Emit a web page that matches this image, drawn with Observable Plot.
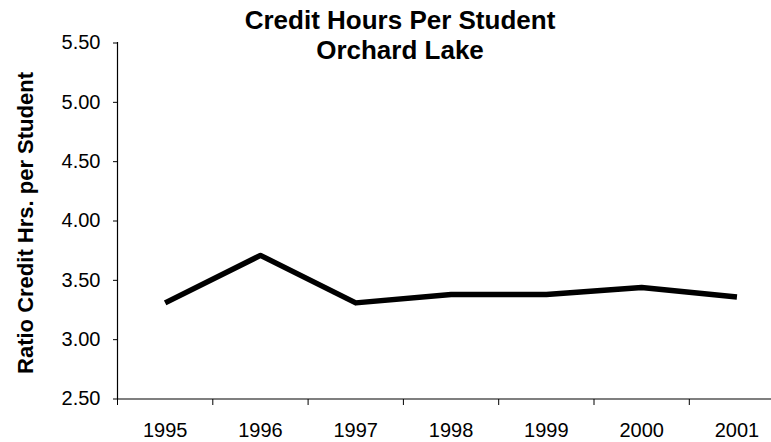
<!DOCTYPE html>
<html>
<head>
<meta charset="utf-8">
<script src="https://cdn.jsdelivr.net/npm/d3@7"></script>
<script src="https://cdn.jsdelivr.net/npm/@observablehq/plot@0.6"></script>
<style>
  body { margin: 0; background: #fff; overflow: hidden; }
  #chart { width: 771px; height: 442px; overflow: hidden; position: relative; }
  #chart svg { overflow: hidden; }
</style>
</head>
<body>
<div id="chart"></div>
<script>
// ---- data ----
const years = ["1995", "1996", "1997", "1998", "1999", "2000", "2001"];
const ratios = [3.31, 3.71, 3.31, 3.38, 3.38, 3.44, 3.36];
const yTicks = [2.5, 3.0, 3.5, 4.0, 4.5, 5.0, 5.5];
const titleLines = ["Credit Hours Per Student", "Orchard Lake"];
const yLabel = "Ratio Credit Hrs. per Student";

// ---- derived table ----
const data = years.map((year, i) => ({ year, pos: i + 0.5, ratio: ratios[i] }));
const boundaries = d3.range(years.length + 1);       // tick marks between categories
const centers = years.map((_, i) => i + 0.5);         // label positions

const font = "'Liberation Sans', Arial, Helvetica, sans-serif";

const chart = Plot.plot({
  width: 771,
  height: 442,
  marginLeft: 117,
  marginRight: 0,
  marginTop: 42,
  marginBottom: 43,
  style: { fontFamily: font, fontSize: "20px", color: "#000", background: "#fff", overflow: "hidden" },
  x: { type: "linear", domain: [0, years.length], range: [117, 117 + years.length * 95.3] },
  y: { type: "linear", domain: [2.5, 5.5], range: [398.5, 42.5] },
  marks: [
    // y axis ticks and labels
    Plot.axisY({
      ticks: yTicks,
      tickSize: 4,
      tickPadding: 13,
      tickFormat: d3.format(".2f"),
      fontSize: 20,
      stroke: "#000",
      fill: "#000",
      label: null
    }),
    // x axis tick marks at category boundaries
    Plot.axisX({
      ticks: boundaries,
      tickSize: 6,
      tickFormat: () => "",
      stroke: "#000",
      label: null
    }),
    // x axis category labels
    Plot.axisX({
      ticks: centers,
      tickSize: 0,
      tickPadding: 23,
      tickFormat: (d) => years[Math.floor(d)],
      fontSize: 20,
      fill: "#000",
      label: null
    }),
    Plot.ruleX([0], { stroke: "#000", strokeWidth: 1.2 }),
    Plot.ruleY([2.5], { stroke: "#000", strokeWidth: 1.2 }),
    Plot.line(data, {
      x: "pos",
      y: "ratio",
      stroke: "#000",
      strokeWidth: 5.5,
      strokeLinejoin: "round",
      strokeLinecap: "butt"
    })
  ]
});

document.getElementById("chart").appendChild(chart);

// title and y-axis label as real SVG text
const svg = d3.select(chart);
svg.append("text")
  .attr("x", 400).attr("y", 28.5)
  .attr("text-anchor", "middle")
  .style("font-family", font).style("font-size", "26px").style("font-weight", "bold")
  .attr("fill", "#000")
  .text(titleLines[0]);
svg.append("text")
  .attr("x", 400).attr("y", 58.5)
  .attr("text-anchor", "middle")
  .style("font-family", font).style("font-size", "26px").style("font-weight", "bold")
  .attr("fill", "#000")
  .text(titleLines[1]);
svg.append("text")
  .attr("transform", "translate(33,223) rotate(-90)")
  .attr("text-anchor", "middle")
  .style("font-family", font).style("font-size", "22px").style("font-weight", "bold")
  .attr("fill", "#000")
  .text(yLabel);
</script>
</body>
</html>
